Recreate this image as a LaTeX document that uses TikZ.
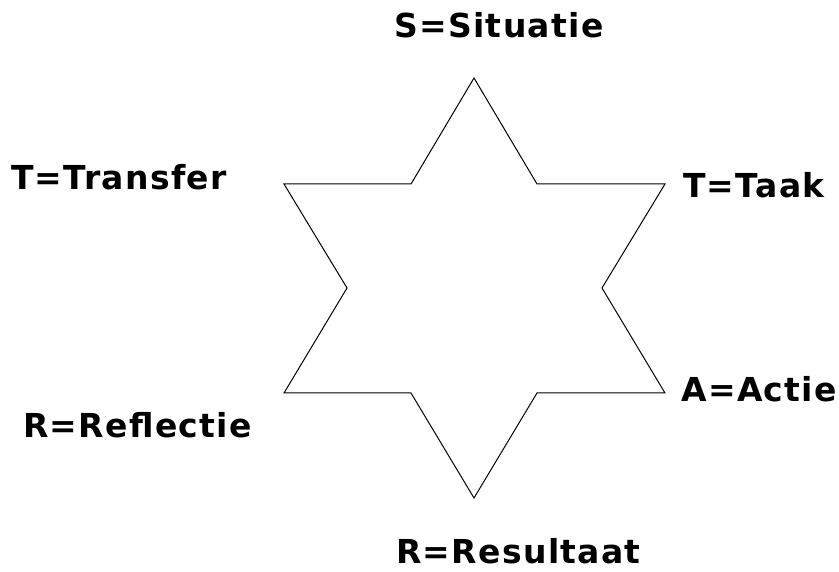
\documentclass[tikz,border=0pt]{standalone}
\usepackage{fontspec}
\setmainfont{DejaVu Sans}[LetterSpace=4]
\begin{document}
\begin{tikzpicture}[x=1pt,y=-1pt,
  lbl/.style={anchor=base west,inner sep=0pt,font=\fontsize{33}{38}\selectfont\bfseries},
  star/.style={draw=black,line width=1pt,line join=miter}]
\useasboundingbox (0,0) rectangle (839,572);
% six-pointed star outline
\coordinate (p1) at (474,78);
\coordinate (i1) at (537,184);
\coordinate (p2) at (665,184);
\coordinate (i2) at (602,288);
\coordinate (p3) at (665,393);
\coordinate (i3) at (537,393);
\coordinate (p4) at (474,498);
\coordinate (i4) at (411,393);
\coordinate (p5) at (284,393);
\coordinate (i5) at (347,288);
\coordinate (p6) at (284,184);
\coordinate (i6) at (411,184);
\draw[star] (p1) -- (i1) -- (p2) -- (i2) -- (p3) -- (i3) -- (p4) -- (i4) -- (p5) -- (i5) -- (p6) -- (i6) -- cycle;
% labels
\node[lbl] (s) at (394,38) {S=Situatie};
\node[lbl] (tt) at (11,190) {T=Transfer};
\node[lbl] (ta) at (683,198) {T=Taak};
\node[lbl] (a) at (681,402) {A=Actie};
\node[lbl] (rf) at (23,437) {R=Reflectie};
\node[lbl] (rs) at (396,563) {R=Resultaat};
\end{tikzpicture}
\end{document}
